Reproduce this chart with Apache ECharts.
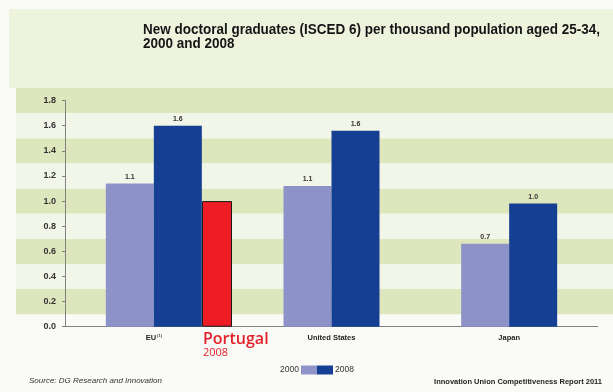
<!DOCTYPE html>
<html>
<head>
<meta charset="utf-8">
<script src="https://cdn.jsdelivr.net/npm/echarts@6/dist/echarts.min.js"></script>
<style>html,body{margin:0;padding:0;background:#fafbf6;}#c{width:613px;height:392px;}</style>
</head>
<body>
<div id="c"></div>
<script>
const categories = ['EU', 'United States', 'Japan'];
const values2000 = [1.14, 1.12, 0.66];
const values2008 = [1.6, 1.56, 0.98];
const portugalCategory = ['Portugal'];
const portugal2008 = [1.0];
const yTicks = [0, 0.2, 0.4, 0.6, 0.8, 1.0, 1.2, 1.4, 1.6, 1.8];
const darkBands = [[0.1, 0.3], [0.5, 0.7], [0.9, 1.1], [1.3, 1.5], [1.7, 1.9]];
const lightBands = [[0.3, 0.5], [0.7, 0.9], [1.1, 1.3], [1.5, 1.7]];
const titleLines = ['New doctoral graduates (ISCED 6) per thousand population aged 25-34,', '2000 and 2008'];

const FONT = 'Liberation Sans, Arial, sans-serif';
const TITLE_FONT = 'bold 14px "Liberation Sans", Arial, sans-serif';
const TOP = 88, BOTTOM = 65.3, YMAX = 1.9;
const PLOT_H = 392 - TOP - BOTTOM;
const AXIS_TOP = TOP + PLOT_H * (YMAX - yTicks[yTicks.length - 1]) / YMAX;
const C2000 = '#8d92c8', C2008 = '#153f92';

// condense the title to the width of the original's narrow face
const ctx = document.createElement('canvas').getContext('2d');
ctx.font = TITLE_FONT;
const titleScale = 457 / ctx.measureText(titleLines[0]).width;

const chart = echarts.init(document.getElementById('c'));
const bandData = darkBands.map(b => [{yAxis: b[0], itemStyle: {color: '#dde6bd'}}, {yAxis: b[1]}])
  .concat(lightBands.map(b => [{yAxis: b[0], itemStyle: {color: '#f2f6e8'}}, {yAxis: b[1]}]));

chart.setOption({
  backgroundColor: '#fafbf6',
  animation: false,
  textStyle: {fontFamily: FONT},
  graphic: [
    {type: 'rect', z: -100, silent: true, shape: {x: 9, y: 9, width: 604, height: TOP - 9}, style: {fill: '#eef3de'}},
    {type: 'text', x: 143, y: 23, scaleX: titleScale, originX: 0, silent: true,
     style: {text: titleLines[0], font: TITLE_FONT, fill: '#151515', verticalAlign: 'alphabetic'}},
    {type: 'text', x: 143, y: 37, scaleX: titleScale, originX: 0, silent: true,
     style: {text: titleLines[1], font: TITLE_FONT, fill: '#151515', verticalAlign: 'alphabetic'}}
  ],
  title: [
    {
      text: 'Portugal', subtext: '2008', left: 203, top: 331, padding: 0, itemGap: 0,
      textStyle: {fontFamily: 'Open Sans, sans-serif', fontWeight: 600, fontSize: 16, color: '#e3202a'},
      subtextStyle: {fontFamily: 'Open Sans, sans-serif', fontSize: 11, color: '#e3202a'}
    },
    {
      text: 'Source: DG Research and Innovation', left: 29, top: 377, padding: 0,
      textStyle: {fontFamily: FONT, fontStyle: 'italic', fontWeight: 'normal', fontSize: 8, color: '#333'}
    },
    {
      text: 'Innovation Union Competitiveness Report 2011', right: 11, top: 378, padding: 0,
      textStyle: {fontFamily: FONT, fontWeight: 'bold', fontSize: 7.5, color: '#222'}
    }
  ],
  legend: [
    {data: ['2000'], right: 296, top: 365.5, padding: 0, align: 'right', itemWidth: 16, itemHeight: 9, icon: 'rect',
     textStyle: {fontSize: 8.5, color: '#333', padding: [0, -3, 0, 0]}},
    {data: ['2008'], left: 317, top: 365.5, padding: 0, align: 'left', itemWidth: 16, itemHeight: 9, icon: 'rect',
     textStyle: {fontSize: 8.5, color: '#333', padding: [0, 0, 0, -3]}}
  ],
  grid: [
    {left: 65, right: 15, top: TOP, bottom: BOTTOM},
    {left: 16, right: 0, top: TOP, bottom: BOTTOM},
    {left: 202, right: 381, top: TOP, bottom: BOTTOM},
    {left: 65, right: 15, top: AXIS_TOP, bottom: BOTTOM}
  ],
  xAxis: [
    {
      type: 'category', data: categories, gridIndex: 0,
      axisLine: {lineStyle: {color: '#808080', width: 1}},
      axisTick: {show: false},
      axisLabel: {
        margin: 7, fontSize: 7.5, fontWeight: 'bold', color: '#222',
        formatter: v => v === 'EU' ? 'EU{sup|(1)}' : v,
        rich: {sup: {fontSize: 4, verticalAlign: 'top', color: '#444', padding: [0, 0, 4, 1]}}
      }
    },
    {type: 'value', gridIndex: 1, min: 0, max: 1, show: false},
    {type: 'category', data: portugalCategory, gridIndex: 2, show: false},
    {type: 'value', gridIndex: 3, min: 0, max: 1, show: false}
  ],
  yAxis: [
    {type: 'value', gridIndex: 0, min: 0, max: YMAX, show: false},
    {type: 'value', gridIndex: 1, min: 0, max: YMAX, show: false},
    {type: 'value', gridIndex: 2, min: 0, max: YMAX, show: false},
    {
      type: 'value', gridIndex: 3, min: yTicks[0], max: yTicks[yTicks.length - 1], interval: 0.2, z: 5,
      axisLine: {show: true, lineStyle: {color: '#808080', width: 1}},
      axisTick: {show: true, length: 3, lineStyle: {color: '#808080'}},
      splitLine: {show: false},
      axisLabel: {margin: 9, fontSize: 9, fontWeight: 'bold', color: '#333', formatter: v => Number(v).toFixed(1)}
    }
  ],
  series: [
    {
      type: 'line', xAxisIndex: 1, yAxisIndex: 1, data: [], z: 0, silent: true,
      markArea: {silent: true, z: 0, data: bandData}
    },
    {
      name: '2000', type: 'bar', data: values2000, barWidth: 48, barGap: '0%', z: 3,
      itemStyle: {color: C2000},
      label: {show: true, position: 'top', distance: 3, fontSize: 7, fontWeight: 'bold', color: '#333',
              formatter: p => p.value.toFixed(1)}
    },
    {
      name: '2008', type: 'bar', data: values2008, barWidth: 48, barGap: '0%', z: 3,
      itemStyle: {color: C2008},
      label: {show: true, position: 'top', distance: 3, fontSize: 7, fontWeight: 'bold', color: '#333',
              formatter: p => p.value.toFixed(1)}
    },
    {
      name: 'Portugal', type: 'bar', xAxisIndex: 2, yAxisIndex: 2, data: portugal2008, barWidth: '100%', z: 3,
      itemStyle: {color: '#ee1c25', borderColor: '#1a1a1a', borderWidth: 1}
    }
  ]
});
</script>
</body>
</html>
